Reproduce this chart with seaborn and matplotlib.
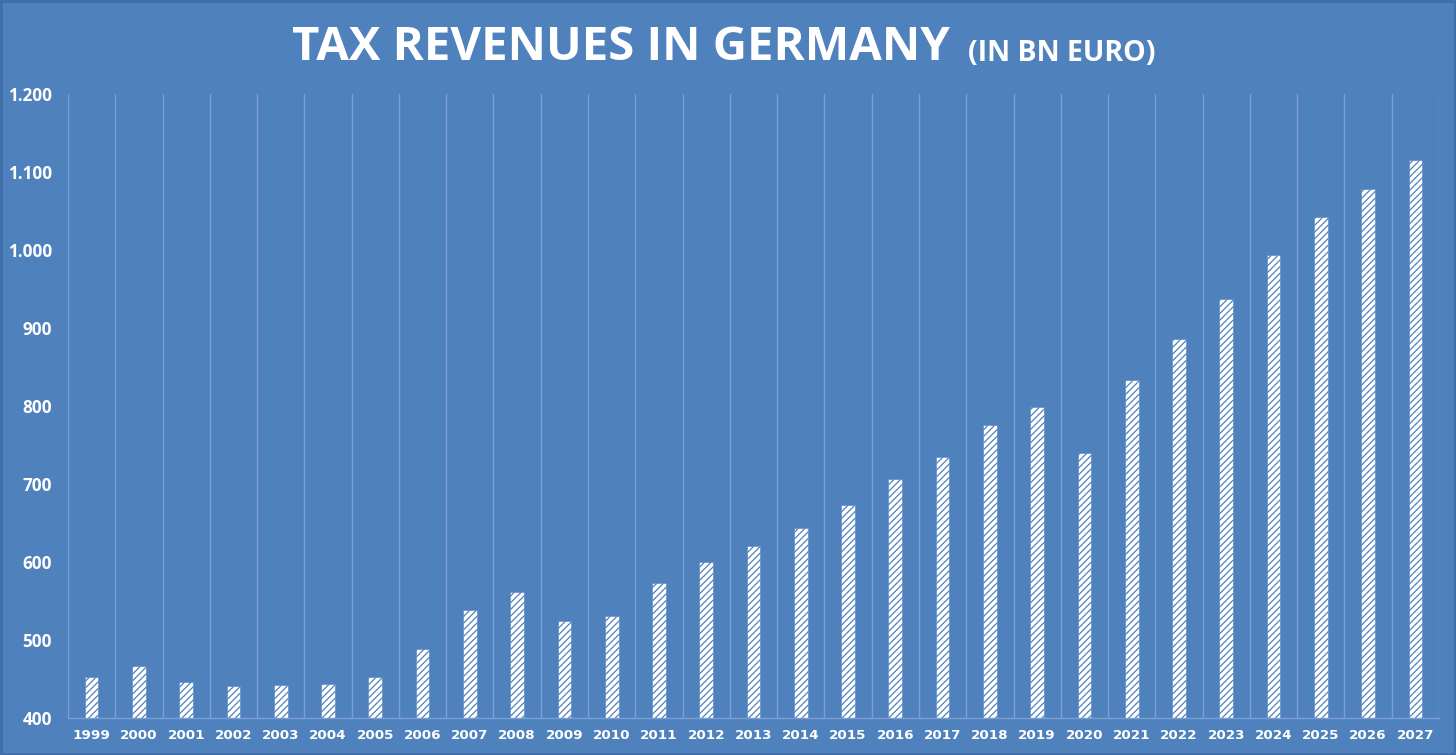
import matplotlib
matplotlib.use("Agg")
import matplotlib.pyplot as plt
import seaborn as sns
import pandas as pd
from matplotlib.patches import Rectangle
from matplotlib.ticker import FuncFormatter, MultipleLocator

years = [str(y) for y in range(1999, 2028)]
revenues = [453, 467, 446, 441, 442, 443, 452, 488, 538, 561, 524, 531, 573, 600,
            620, 644, 673, 706, 735, 776, 799, 740, 833, 886, 937, 993, 1042, 1078, 1115]

title_main = "TAX REVENUES IN GERMANY"
title_sub = "(IN BN EURO)"

BG = "#4F81BD"
GRID = "#7A9FD0"

sns.set_theme(style="white")
plt.rcParams["font.family"] = ["Open Sans", "DejaVu Sans"]
plt.rcParams["hatch.linewidth"] = 0.9

df = pd.DataFrame({"year": years, "revenue": revenues})

fig = plt.figure(figsize=(14.56, 7.55), dpi=100, facecolor=BG)
ax = fig.add_axes([68 / 1456, 37 / 755, (1439 - 68) / 1456, (718 - 94) / 755])
ax.set_facecolor(BG)

sns.barplot(data=df, x="year", y="revenue", order=years, color="white",
            width=0.29, ax=ax, saturation=1)
for p in ax.patches:
    p.set_facecolor("white")
    p.set_edgecolor(BG)
    p.set_linewidth(0.4)
    p.set_hatch("/////")

ax.set_ylim(400, 1200)
ax.set_xlim(-0.5, len(years) - 0.5)
ax.yaxis.set_major_locator(MultipleLocator(100))
ax.yaxis.set_major_formatter(FuncFormatter(lambda v, _: f"{int(v):,}".replace(",", ".")))

for i in range(len(years) + 1):
    ax.axvline(i - 0.5, color=GRID, lw=1.0, zorder=0)

for s in ["top", "right", "left"]:
    ax.spines[s].set_visible(False)
ax.spines["bottom"].set_color(GRID)
ax.spines["bottom"].set_linewidth(1.0)

ax.set_xlabel("")
ax.set_ylabel("")
ax.tick_params(axis="both", length=0)
ax.tick_params(axis="y", pad=11.5)
ax.tick_params(axis="x", pad=8)
for lab in ax.get_yticklabels():
    lab.set_color("white")
    lab.set_fontweight("bold")
    lab.set_fontsize(12.3)
for lab in ax.get_xticklabels():
    lab.set_color("white")
    lab.set_fontweight("bold")
    lab.set_fontsize(9.7)
    lab.set_family(["DejaVu Sans"])

fig.text(950 / 1456, 1 - 60 / 755, title_main, ha="right", va="baseline",
         color="white", fontsize=34, fontweight="bold")
fig.text(968 / 1456, 1 - 61 / 755, title_sub, ha="left", va="baseline",
         color="white", fontsize=20.5, fontweight="bold")

fig.patches.append(Rectangle((0.0007, 0.0013), 0.9986, 0.9974, transform=fig.transFigure,
                             fill=False, edgecolor="#3F6EA8", lw=2))

fig.savefig("out.png", dpi=100, facecolor=BG)
